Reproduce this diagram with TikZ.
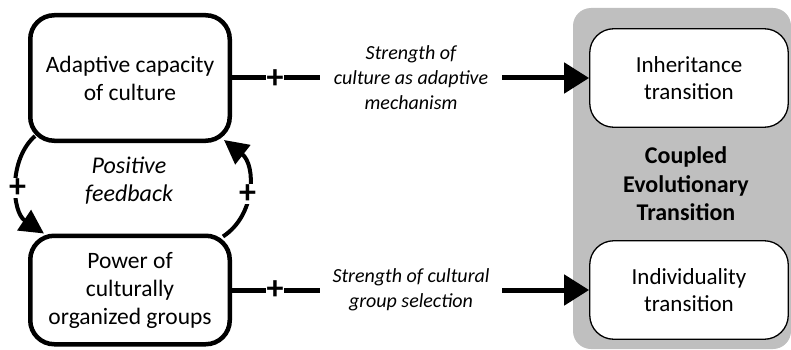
\documentclass[tikz,border=0pt]{standalone}
\usepackage{fontspec}
\setmainfont{Carlito}
\usetikzlibrary{arrows.meta,calc}
\definecolor{panelgray}{HTML}{BFBFBF}
\begin{document}
\begin{tikzpicture}[x=1pt,y=-1pt,
  bigbox/.style={draw, line width=4.5pt, rounded corners=24pt, fill=white, align=center,
    minimum width=199.5pt, font=\fontsize{23.5}{28}\selectfont},
  smallbox/.style={draw, line width=1.3pt, rounded corners=24pt, fill=white, align=center,
    minimum width=198.5pt, minimum height=98.5pt, font=\fontsize{23}{27}\selectfont},
  conn/.style={line width=5pt, -{Triangle[length=25pt,width=30pt]}},
  loop/.style={line width=4pt, -{Triangle[length=24pt,width=24pt]}},
  plus/.style={fill=white, inner sep=0.8pt, font=\fontsize{34}{34}\selectfont\bfseries},
  lab/.style={fill=white, align=center, font=\fontsize{20}{25}\selectfont\itshape}]
\useasboundingbox (0,0) rectangle (791,350);
% grey panel
\fill[panelgray, rounded corners=18pt] (573,8) rectangle (791,349);
% nodes
\node[bigbox, minimum height=125.5pt] (A) at (130,78) {Adaptive capacity\\of culture};
\node[bigbox, minimum height=108.5pt] (P) at (130,290) {Power of\\culturally\\organized groups};
\node[smallbox] (I) at (689,78) {Inheritance\\transition};
\node[smallbox] (D) at (689,290) {Individuality\\transition};
\node[align=center, font=\fontsize{24}{28.5}\selectfont\bfseries] (C) at (686,184) {Coupled\\Evolutionary\\Transition};
\node[align=center, font=\fontsize{24}{28}\selectfont\itshape] (F) at (129,181) {Positive\\feedback};
% horizontal connectors
\draw[conn] (A) -- (I);
\draw[conn] (P) -- (D);
\node[plus] (p1) at (275,79) {+};
\node[plus] (p2) at (275,290) {+};
\node[lab, minimum width=182pt] (L1) at (411,78) {Strength of\\culture as adaptive\\mechanism};
\node[lab, minimum width=182pt] (L2) at (411,290) {Strength of cultural\\group selection};
% feedback loop
\coordinate (a1) at ($(A.south west)+(7,-7)$);
\coordinate (a2) at ($(P.north west)+(16,0)$);
\coordinate (b1) at ($(P.north east)+(-9,3)$);
\coordinate (b2) at ($(A.south east)+(-8,-3)$);
\draw[loop] (a1) .. controls (8,160) and (12,212) .. node[plus, pos=0.52] (p3) {+} (a2);
\draw[loop] (b1) .. controls (256,215) and (256,165) .. node[plus, pos=0.46] (p4) {+} (b2);
\end{tikzpicture}
\end{document}
